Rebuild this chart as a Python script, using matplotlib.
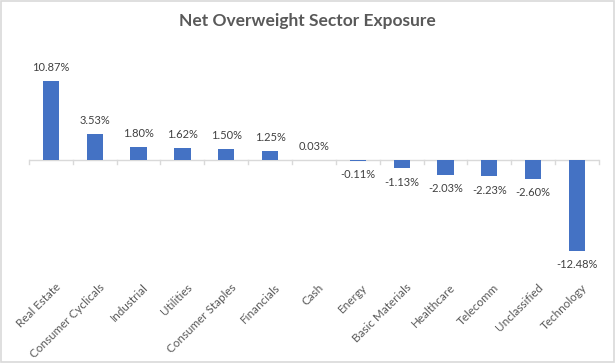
import matplotlib.pyplot as plt
import matplotlib.transforms as mtransforms
from matplotlib.patches import Rectangle
import numpy as np

# DATA
sectors = ["Real Estate", "Consumer Cyclicals", "Industrial", "Utilities",
           "Consumer Staples", "Financials", "Cash", "Energy", "Basic Materials",
           "Healthcare", "Telecomm", "Unclassified", "Technology"]
exposure = [10.87, 3.53, 1.80, 1.62, 1.50, 1.25, 0.03, -0.11, -1.13,
            -2.03, -2.23, -2.60, -12.48]

BLUE = "#4472C4"
GREY = "#595959"
LINE = "#D9D9D9"

plt.rcParams['font.family'] = ['Lato', 'DejaVu Sans']


def main():
    fig = plt.figure(figsize=(6.15, 3.63), dpi=100)
    ax = fig.add_axes([0.047, 0.259, 0.927, 0.60])

    x = np.arange(len(sectors))
    ax.bar(x, exposure, width=0.37, color=BLUE, zorder=3)

    # value labels
    for xi, v in zip(x, exposure):
        if v >= 0:
            ax.annotate(f"{v:.2f}%", (xi, v), xytext=(0, 6), textcoords="offset points",
                        ha="center", va="bottom", fontsize=8, color="#404040")
        else:
            ax.annotate(f"{v:.2f}%", (xi, v), xytext=(0, -6), textcoords="offset points",
                        ha="center", va="top", fontsize=8, color="#404040")

    ax.set_xlim(-0.5, len(sectors) - 0.5)
    ax.set_ylim(-15, 15)
    ax.axhline(0, color=LINE, lw=1, zorder=2)

    for s in ax.spines.values():
        s.set_visible(False)
    ax.set_yticks([])

    ax.set_xticks(x)
    ax.set_xticklabels(sectors, rotation=45, ha="right", rotation_mode="anchor",
                       fontsize=8.4, color=GREY)
    ax.tick_params(axis="x", which="major", length=0, pad=9)
    shift = mtransforms.ScaledTranslation(4 / 100, 0, fig.dpi_scale_trans)
    for lab in ax.get_xticklabels():
        lab.set_transform(lab.get_transform() + shift)
    # small tick marks between categories hanging off the zero line
    for m in np.arange(-0.5, len(sectors), 1):
        ax.plot([m, m], [0, -0.55], color=LINE, lw=1, zorder=2, clip_on=False)

    fig.text(0.5, 1 - 21 / 363, "Net Overweight Sector Exposure", ha="center", va="center",
             fontsize=12.5, fontweight="bold", color=GREY)

    fig.patches.append(Rectangle((0.002, 0.003), 0.996, 0.994, transform=fig.transFigure,
                                 fill=False, edgecolor=LINE, lw=1.2))

    fig.savefig("out.png", dpi=100)


if __name__ == '__main__':
    main()
